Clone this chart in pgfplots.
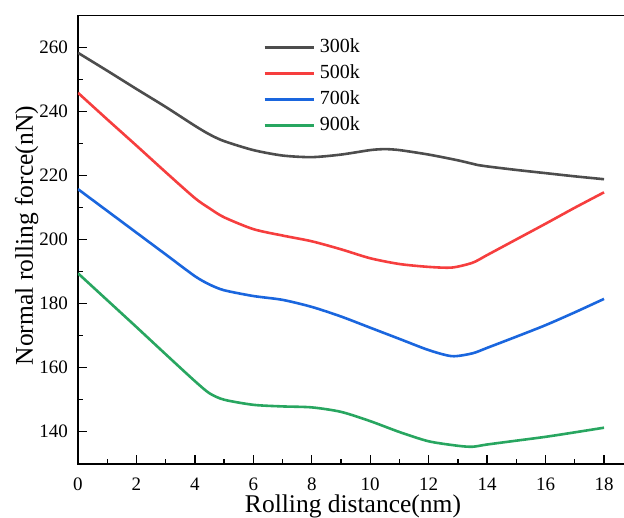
\documentclass[border=0pt]{standalone}
\usepackage{fontspec}
\setmainfont{Liberation Serif}
\newfontfamily\lsr{Liberation Serif}
\usepackage{pgfplots}
\pgfplotsset{compat=1.18}
\definecolor{c300}{RGB}{77,77,77}
\definecolor{c500}{RGB}{246,62,62}
\definecolor{c700}{RGB}{26,102,222}
\definecolor{c900}{RGB}{40,166,96}
\begin{document}
\begin{tikzpicture}
\begin{axis}[
 scale only axis, width=550pt, height=448pt,
 xmin=0, xmax=18.82, ymin=130, ymax=270,
 xtick={0,2,...,18}, ytick={140,160,...,260},
 minor x tick num=1, minor y tick num=1,
 xtick pos=bottom, ytick pos=left, tick align=inside,
 major tick length=9pt, minor tick length=5pt,
 every tick/.style={black, line width=1.3pt},
 axis line style={line width=1.6pt},
 ticklabel style={font=\lsr\fontsize{19}{22}\selectfont},
 /pgf/number format/assume math mode=true,
 xticklabel style={inner sep=0pt, anchor=north, yshift=-14pt},
 yticklabel style={inner sep=0pt, anchor=east, xshift=-10pt},
 every axis x label/.style={at={([yshift=-48.8pt]axis description cs:0.5,0)}, anchor=base, font=\lsr\fontsize{25.5}{28}\selectfont},
 every axis y label/.style={at={([xshift=-45pt]axis description cs:0,0.509)}, rotate=90, anchor=base, font=\lsr\fontsize{25.5}{28}\selectfont},
 xlabel={Rolling distance(nm)},
 ylabel={Normal rolling force(nN)},
 legend style={at={(axis description cs:0.3364,0.9489)}, anchor=north west, draw=none, fill=none, inner sep=0pt, row sep=8pt, column sep=5pt, font=\lsr\fontsize{20}{22}\selectfont, nodes={inner sep=0pt, text height=14pt, text depth=4pt}},
 legend cell align=left,
 legend image code/.code={\draw[#1] (0pt,0pt) -- (49pt,0pt);},
 every axis plot/.append style={line width=2.6pt, smooth, tension=0.45},
]
\addplot[c300] coordinates {(0,258.4)(1,252.8)(2,247.1)(3,241.5)(4,235.6)(4.5,232.9)(5,230.8)(6,228)(7,226.3)(8,225.8)(9,226.6)(10,228)(10.5,228.3)(11,228)(12,226.6)(13,224.8)(13.7,223.3)(14,222.9)(15,221.8)(16,220.8)(17,219.8)(18,218.9)};
\addlegendentry{300k}
\addplot[c500] coordinates {(0,245.9)(1,237.6)(2,229.4)(3,221.1)(4,213)(4.5,209.8)(5,207)(6,203.3)(7,201.3)(8,199.5)(9,197)(10,194.2)(11,192.4)(12,191.5)(12.8,191.3)(13.5,192.8)(14,195.2)(15,200.1)(16,205)(17,210)(18,214.8)};
\addlegendentry{500k}
\addplot[c700] coordinates {(0,215.8)(1,209)(2,202.2)(3,195.4)(4,188.6)(4.5,186)(5,184.2)(6,182.4)(7,181.2)(8,179)(9,176)(10,172.5)(11,169)(12,165.5)(12.8,163.6)(13.5,164.5)(14,166.2)(15,169.7)(16,173.3)(17,177.3)(18,181.5)};
\addlegendentry{700k}
\addplot[c900] coordinates {(0,189.5)(1,181.1)(2,172.7)(3,164.2)(4,155.8)(4.5,152)(5,150)(6,148.4)(7,147.9)(8,147.6)(9,146.2)(10,143.3)(11,139.9)(12,137)(13,135.6)(13.5,135.3)(14,136)(15,137.2)(16,138.4)(17,139.8)(18,141.25)};
\addlegendentry{900k}
\coordinate (SW) at (rel axis cs:0,0);
\coordinate (NE) at (rel axis cs:1,1);
\end{axis}
\pgfresetboundingbox
\useasboundingbox ([xshift=-78pt,yshift=-53.3pt]SW) rectangle ([xshift=-4pt,yshift=15.7pt]NE);
\end{tikzpicture}
\end{document}
